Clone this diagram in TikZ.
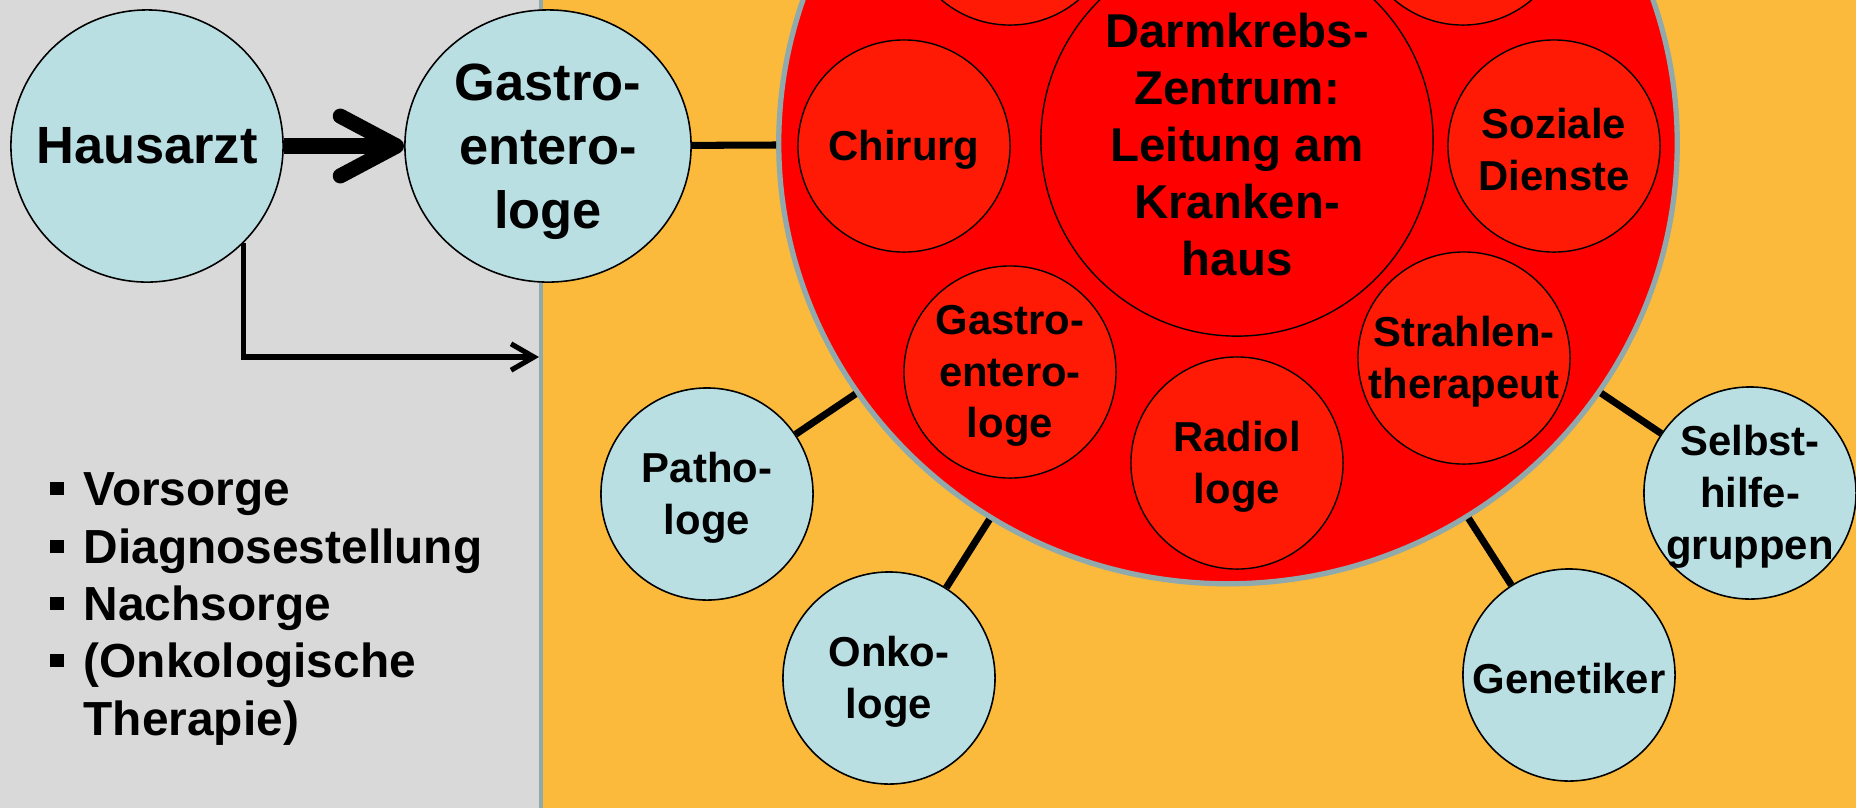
\documentclass[tikz,border=0pt]{standalone}
\usepackage{fontspec}
\setmainfont{Liberation Sans}
\usetikzlibrary{arrows.meta,shapes.geometric}
\definecolor{panelgray}{HTML}{D9D9D9}
\definecolor{panelorange}{HTML}{FBBA3C}
\definecolor{nodeblue}{HTML}{B9DFE3}
\definecolor{innerred}{HTML}{FF1A05}
\definecolor{rimgray}{HTML}{8FA9AC}

\tikzset{
  bluecirc/.style={circle, draw=black, line width=0.45pt, fill=nodeblue, inner sep=0pt, minimum size=2.12cm},
  redcirc/.style={circle, draw=black, line width=0.4pt, fill=innerred, inner sep=0pt, minimum size=2.12cm},
  bigtxt/.style={font=\fontsize{14.9}{18.2}\selectfont\bfseries, align=center, inner sep=0pt},
  midtxt/.style={font=\fontsize{13.5}{16.2}\selectfont\bfseries, align=center, inner sep=0pt},
  smalltxt/.style={font=\fontsize{11.9}{14.7}\selectfont\bfseries, align=center, inner sep=0pt, yshift=-1.1pt},
  listtxt/.style={font=\fontsize{13.6}{16.4}\selectfont\bfseries, anchor=base west, inner sep=0pt},
  link/.style={line width=2pt},
}

\begin{document}
\begin{tikzpicture}[x=0.01cm, y=-0.01cm]
  \useasboundingbox (0,0) rectangle (1856,808);
  \clip (0,0) rectangle (1856,808);
  % Hintergrund
  \fill[panelgray] (0,0) rectangle (541,808);
  \fill[panelorange] (541,0) rectangle (1856,808);
  \draw[rimgray, line width=1.2pt] (541,0) -- (541,808);

  % linke Seite
  \node[bluecirc, bigtxt, minimum size=2.72cm] (hausarzt) at (147,146) {Hausarzt};
  \node[ellipse, draw=black, line width=0.45pt, fill=nodeblue, inner sep=0pt,
        minimum width=2.86cm, minimum height=2.72cm] (gastro) at (548,146) {};
  \node[bigtxt, yshift=-1.7pt] (gastro-t) at (gastro) {Gastro-\\entero-\\loge};
  \draw[line width=4.3pt, -{Straight Barb[length=16pt, width=17pt, round]}] (hausarzt) -- (gastro);
  \coordinate (grenze) at (539,357);
  \draw[line width=1.45pt, -{Straight Barb[length=6.5pt, width=7.5pt]}] (hausarzt.-45) |- (grenze);

  \foreach \i/\y/\txt in {1/505/Vorsorge, 2/563/Diagnosestellung, 3/620/Nachsorge, 4/677/{(Onkologische}}
  {
    \node[fill=black, inner sep=0pt, minimum size=0.13cm] (dot\i) at (57,\y-17) {};
    \node[listtxt] (punkt\i) at (83,\y) {\txt};
  }
  \node[listtxt] (punkt5) at (83,735) {Therapie)};

  % Zentrum
  \node[ellipse, draw=rimgray, line width=1.5pt, fill=red, inner sep=0pt,
        minimum width=8.98cm, minimum height=8.81cm] (zentrum) at (1228,143) {};
  \node[circle, draw=black, line width=0.4pt, fill=red, inner sep=0pt, minimum size=3.92cm]
    (leitung) at (1237,140) {};
  \node[midtxt, yshift=-1.2pt] (leitung-t) at (leitung) {Darmkrebs-\\Zentrum:\\Leitung am\\Kranken-\\haus};
  \foreach \nm/\x/\y in {obenl/1010/-81, obenr/1463/-81}
    \node[redcirc] (\nm) at (\x,\y) {};
  \foreach \nm/\x/\y/\txt in {chirurg/904/146/Chirurg, soziale/1554/146/{Soziale\\Dienste},
      magen/1010/372/{Gastro-\\entero-\\loge}, radio/1237/463/{Radiol\\loge},
      strahlen/1464/358/{Strahlen-\\therapeut}}
  {
    \node[redcirc] (\nm) at (\x,\y) {};
    \node[smalltxt] (\nm-t) at (\nm) {\txt};
  }
  \draw[link] (gastro) -- (zentrum);

  % Partner aussen
  \foreach \nm/\x/\y/\txt in {patho/707/494/{Patho-\\loge}, onko/889/678/{Onko-\\loge},
      genetik/1569/675/Genetiker, selbst/1750/493/{Selbst-\\hilfe-\\gruppen}}
  {
    \node[bluecirc] (\nm) at (\x,\y) {};
    \node[smalltxt] (\nm-t) at (\nm) {\txt};
    \draw[link] (\nm) -- (zentrum);
  }
\end{tikzpicture}
\end{document}
